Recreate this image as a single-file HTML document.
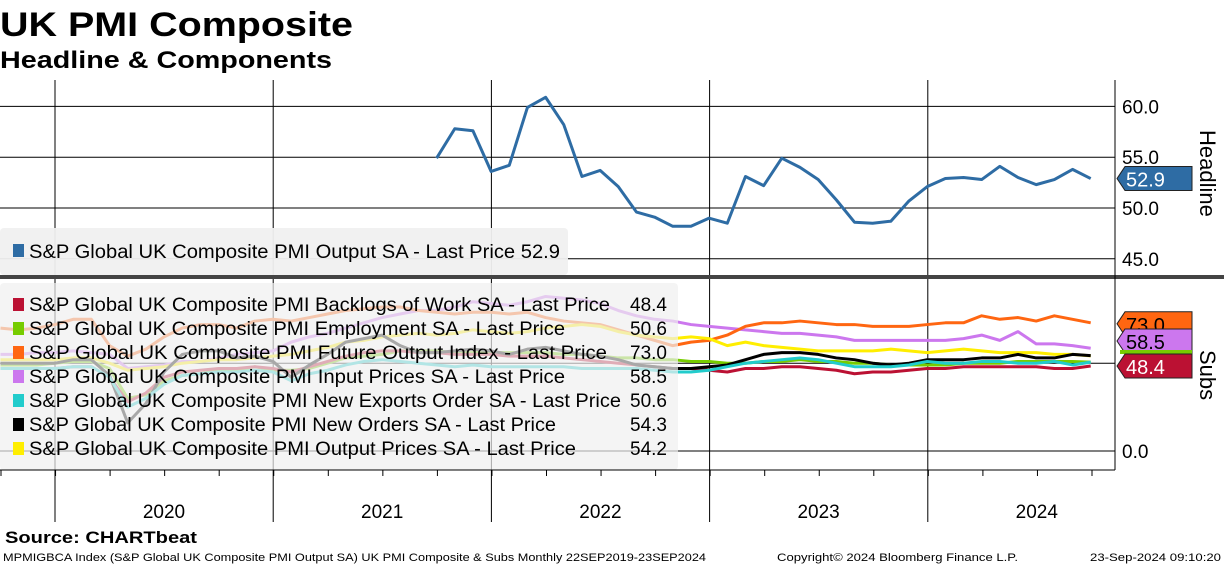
<!DOCTYPE html>
<html><head><meta charset="utf-8"><style>
html,body{margin:0;padding:0;background:#fff;}
svg{display:block;font-family:"Liberation Sans",sans-serif;}
</style></head><body>
<svg id="chart" width="1224" height="566" viewBox="0 0 1224 566">
<text x="0" y="36" font-size="34" font-weight="bold" textLength="353" lengthAdjust="spacingAndGlyphs">UK PMI Composite</text>
<text x="0" y="68" font-size="24" font-weight="bold" textLength="332" lengthAdjust="spacingAndGlyphs">Headline &amp; Components</text>
<g id="grid"></g>
<g id="sub-lines"></g>
<g id="head-lines"></g>
<g id="legends"></g>
<g id="axes"></g>
<text x="5" y="543" font-size="17" font-weight="bold" textLength="192" lengthAdjust="spacingAndGlyphs">Source: CHARTbeat</text>
<text x="3" y="561" font-size="11" textLength="703" lengthAdjust="spacingAndGlyphs">MPMIGBCA Index (S&amp;P Global UK Composite PMI Output SA) UK PMI Composite &amp; Subs  Monthly 22SEP2019-23SEP2024</text>
<text x="777" y="561" font-size="11" textLength="241" lengthAdjust="spacingAndGlyphs">Copyright© 2024 Bloomberg Finance L.P.</text>
<text x="1090" y="561" font-size="11" textLength="131" lengthAdjust="spacingAndGlyphs">23-Sep-2024 09:10:20</text>
</svg>
<script>
// Data: monthly Sep 2019 .. Sep 2024 (61 points)
const years = ["2020","2021","2022","2023","2024"];
const headTicks = [45,50,55,60];
const subTicks = [0];
const headline = [54.9,57.8,57.6,53.6,54.2,59.9,60.9,58.2,53.1,53.7,52.1,49.6,49.1,48.2,48.2,49.0,48.5,53.1,52.2,54.9,54.0,52.8,50.8,48.6,48.5,48.7,50.7,52.1,52.9,53.0,52.8,54.1,53.0,52.3,52.8,53.8,52.9];
const headlineStart = 24; // index of Sep 2021 in monthly series
const backlogs = [47,47,47,47, 48,48,42,28,33,42,45,46,47,47,48,47, 45,48,51,54,56,57,57,56,56,55,55,55, 54,54,54,53,52,51,50,49,48,47,47,46, 45,47,47,48,48,47,46,44,45,45,46,47, 47,48,48,48,48,48,47,47,48.4];
const employment = [49,49,49,50, 51,51,47,30,32,40,43,44,46,46,48,46, 46,47,50,53,54,55,57,57,57,56,56,56, 56,56,56,55,55,54,53,53,52,52,51,51, 50,50,51,51,52,51,51,50,50,49,49,49, 49,50,50,50,51,51,51,51,50.6];
const futureOutput = [70,69,70,72, 75,75,60,54,58,65,70,72,72,70,74,75, 74,76,78,80,81,82,82,80,79,78,79,79, 78,79,76,74,73,72,69,66,63,60,62,63, 66,71,73,73,74,73,72,72,71,71,71,72, 73,73,77,75,76,74,77,75,73.0];
const inputPrices = [55,55,56,56, 57,56,55,47,48,49,51,51,53,55,56,57, 62,65,67,70,73,76,78,80,80,82,85,84, 83,85,88,87,86,84,80,77,75,74,72,71, 70,69,68,67,67,66,65,63,63,63,63,63, 63,64,66,63,68,61,61,60,58.5];
const newExports = [47,47,47,47, 48,48,42,25,30,38,43,44,45,45,46,45, 40,44,46,49,51,52,51,50,49,48,49,48, 48,48,48,48,47,47,47,47,46,45,45,46, 48,50,51,52,53,52,50,48,48,48,49,51, 50,50,51,51,50,50,51,49,50.6];
const newOrders = [50,50,50,50, 52,52,43,16,27,45,55,57,57,53,54,51, 42,49,55,62,64,66,60,56,56,57,58,57, 55,58,59,57,55,54,52,49,48,47,47,48, 49,52,55,56,56,55,53,52,50,49,50,52, 52,52,53,53,55,53,53,55,54.3];
const outputPrices = [52,52,52,52, 53,53,50,46,47,48,50,51,52,52,53,54, 55,57,59,62,63,65,66,67,66,67,69,68, 67,68,70,71,72,71,68,66,65,64,65,64, 60,62,60,59,58,57,57,57,57,58,57,56, 57,58,57,56,56,56,55,55,54.2];

const NS="http://www.w3.org/2000/svg";
function mk(tag,attrs,parent){const e=document.createElementNS(NS,tag);for(const k in attrs)e.setAttribute(k,attrs[k]);parent.appendChild(e);return e;}
const xOf = i => 0.5 + i*18.17;
const yHead = v => 208 - (v-50)*10.16;
const ySub = v => 451 - v*1.756;

const grid=document.getElementById('grid');
for(let k=0;k<5;k++){
  const x=55+k*218.2;
  const l=mk('line',{x1:x,y1:80,x2:x,y2:522,stroke:'#000','stroke-width':1},grid);
  
  
}
years.forEach((y,k)=>{
  const t=mk('text',{x:55+k*218.2+109,y:518,'font-size':19,'text-anchor':'middle'},grid);t.textContent=y;
  
  
});
headTicks.forEach(v=>{
  const l=mk('line',{x1:0,y1:yHead(v),x2:1115,y2:yHead(v),stroke:'#000','stroke-width':1},grid);
  
  
  const t=mk('text',{x:1122,y:yHead(v)+7,'font-size':19},grid);t.textContent=v.toFixed(1);
  
  
});
[0,50].forEach(v=>{
  const l=mk('line',{x1:0,y1:ySub(v),x2:1115,y2:ySub(v),stroke:'#000','stroke-width':1},grid);
  
  
});
subTicks.forEach(v=>{
  const t=mk('text',{x:1122,y:ySub(v)+7,'font-size':19},grid);t.textContent=v.toFixed(1);
  
  
});

const subs=[
 ['series-input-prices',inputPrices,'#cc77ee'],
 ['series-future-output',futureOutput,'#ff6611'],
 ['series-output-prices',outputPrices,'#ffee00'],
 ['series-employment',employment,'#77cc00'],
 ['series-backlogs',backlogs,'#bb1133'],
 ['series-new-orders',newOrders,'#000000'],
 ['series-new-exports',newExports,'#22cccc'],
];
const sl=document.getElementById('sub-lines');
subs.forEach(([n,d,c])=>{
  const p=mk('polyline',{points:d.map((v,i)=>xOf(i)+','+ySub(v)).join(' '),fill:'none',stroke:c,'stroke-width':3,'stroke-linejoin':'round'},sl);
  
  
});
const hl=document.getElementById('head-lines');
const hp=mk('polyline',{points:headline.map((v,i)=>xOf(i+headlineStart)+','+yHead(v)).join(' '),fill:'none',stroke:'#2e6ca4','stroke-width':3,'stroke-linejoin':'round'},hl);



const lg=document.getElementById('legends');
const lb1=mk('rect',{x:0,y:228,width:568,height:47,rx:4,fill:'#f0f0f0','fill-opacity':0.95},lg);


mk('rect',{x:13,y:244,width:11,height:13,fill:'#2e6ca4'},lg);
const lt=mk('text',{x:29,y:258,'font-size':19,textLength:531,lengthAdjust:'spacingAndGlyphs'},lg);
lt.textContent='S&P Global UK Composite PMI Output SA - Last Price 52.9';



const lb2=mk('rect',{x:0,y:283,width:678,height:187,rx:4,fill:'#f0f0f0','fill-opacity':0.7},lg);


const entries=[
 ['S&P Global UK Composite PMI Backlogs of Work SA - Last Price','48.4','#bb1133',581],
 ['S&P Global UK Composite PMI Employment SA - Last Price','50.6','#77cc00',536],
 ['S&P Global UK Composite PMI Future Output Index - Last Price','73.0','#ff6611',578],
 ['S&P Global UK Composite PMI Input Prices SA - Last Price','58.5','#cc77ee',536],
 ['S&P Global UK Composite PMI New Exports Order SA - Last Price','50.6','#22cccc',592],
 ['S&P Global UK Composite PMI New Orders SA - Last Price','54.3','#000000',527],
 ['S&P Global UK Composite PMI Output Prices SA - Last Price','54.2','#ffee00',547],
];
entries.forEach(([txt,val,c,w],k)=>{
  const y=304+k*24;
  mk('rect',{x:13,y:y-6,width:11,height:13,fill:c},lg);
  const t=mk('text',{x:29,y:y+7,'font-size':19,textLength:w,lengthAdjust:'spacingAndGlyphs'},lg);t.textContent=txt;
  
  
  const v=mk('text',{x:667,y:y+7,'font-size':19,'text-anchor':'end'},lg);v.textContent=val;
  
  
});

const ax=document.getElementById('axes');
const dv=mk('rect',{x:0,y:275,width:1224,height:4,fill:'#444'},ax);


mk('line',{x1:1115,y1:80,x2:1115,y2:470,stroke:'#000','stroke-width':1},ax);
mk('line',{x1:0,y1:470,x2:1115,y2:470,stroke:'#000','stroke-width':1},ax);
for(let i=0;i<=20;i++){const x=1+i*54.55;mk('line',{x1:x,y1:470,x2:x,y2:476,stroke:'#000'},ax);}
function tag(y,v,c,name,tc){
  const g=mk('g',{},ax);
  
  
  mk('path',{d:`M1117 ${y} L1125 ${y-12} L1192 ${y-12} L1192 ${y+12} L1125 ${y+12} Z`,fill:c,stroke:'#222','stroke-width':1},g);
  const t=mk('text',{x:1126,y:y+8,'font-size':20,fill:tc||'#fff'},g);t.textContent=v;
}
tag(yHead(52.9),'52.9','#2e6ca4','headline-value-tag');
tag(ySub(73)+1,'73.0','#ff6611','future-output-tag','#000');
tag(341,'58.5','#cc77ee','input-prices-tag','#000');
mk('rect',{x:1120,y:350,width:72,height:4,fill:'#77cc00'},ax);
tag(366,'48.4','#bb1133','backlogs-tag');
const h1=mk('text',{'font-size':22,transform:'translate(1200,130) rotate(90)'},ax);h1.textContent='Headline';


const h2=mk('text',{'font-size':22,transform:'translate(1200,350) rotate(90)'},ax);h2.textContent='Subs';


</script>
</body></html>
